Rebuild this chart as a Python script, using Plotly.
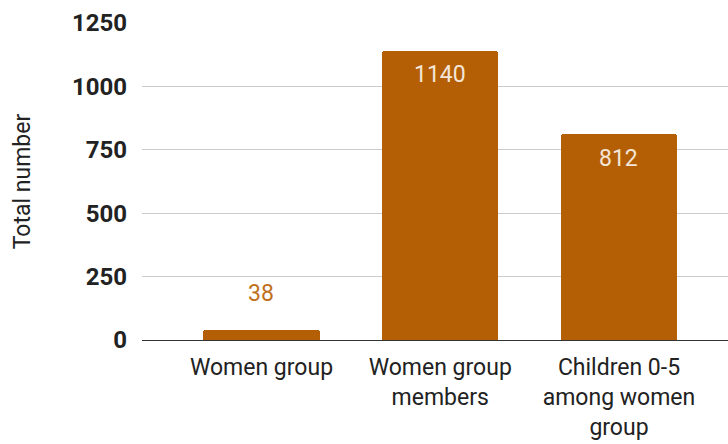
import plotly.graph_objects as go

categories = ["Women group", "Women group<br>members", "Children 0-5<br>among women<br>group"]
values = [38, 1140, 812]
y_ticks = [0, 250, 500, 750, 1000, 1250]

bar_color = "#B45F06"

fig = go.Figure()
fig.add_trace(go.Bar(
    x=list(range(len(categories))),
    y=values,
    marker=dict(color=bar_color, cornerradius=3, line=dict(width=0)),
    width=0.65,
    hoverinfo="skip",
))

# value labels
for i, v in enumerate(values):
    inside = v > 200
    fig.add_annotation(
        x=i, y=v, text=str(v), showarrow=False,
        yshift=-24 if inside else 37,
        font=dict(family="Roboto", size=23, color="#F3E6D8" if inside else "#C0701C"),
    )

fig.update_layout(
    width=728, height=444,
    margin=dict(l=142, r=0, t=23, b=104, autoexpand=False),
    paper_bgcolor="white", plot_bgcolor="white",
    showlegend=False,
    bargap=0,
    font=dict(family="Roboto", color="#222222"),
)
fig.update_xaxes(
    range=[-0.6685, 2.61],
    tickvals=list(range(len(categories))),
    ticktext=categories,
    tickfont=dict(family="Roboto", size=23, color="#222222"),
    showgrid=False, ticks="", showline=False, zeroline=False,
    automargin=False, ticklabelstandoff=11,
)
fig.update_yaxes(
    range=[0, 1250],
    tickvals=y_ticks,
    ticktext=[str(t) for t in y_ticks],
    tickfont=dict(family="Roboto", size=24, color="#222222", weight="bold"),
    showgrid=True, gridcolor="#CCCCCC", gridwidth=1,
    zeroline=True, zerolinecolor="#333333", zerolinewidth=1,
    ticks="", ticklabelstandoff=14, automargin=False,
    title=dict(text="Total number", font=dict(family="Roboto", size=23, color="#222222"), standoff=34),
)

fig.write_html("out.html", config={"displayModeBar": False},
               post_script="document.body.style.margin='0';")
